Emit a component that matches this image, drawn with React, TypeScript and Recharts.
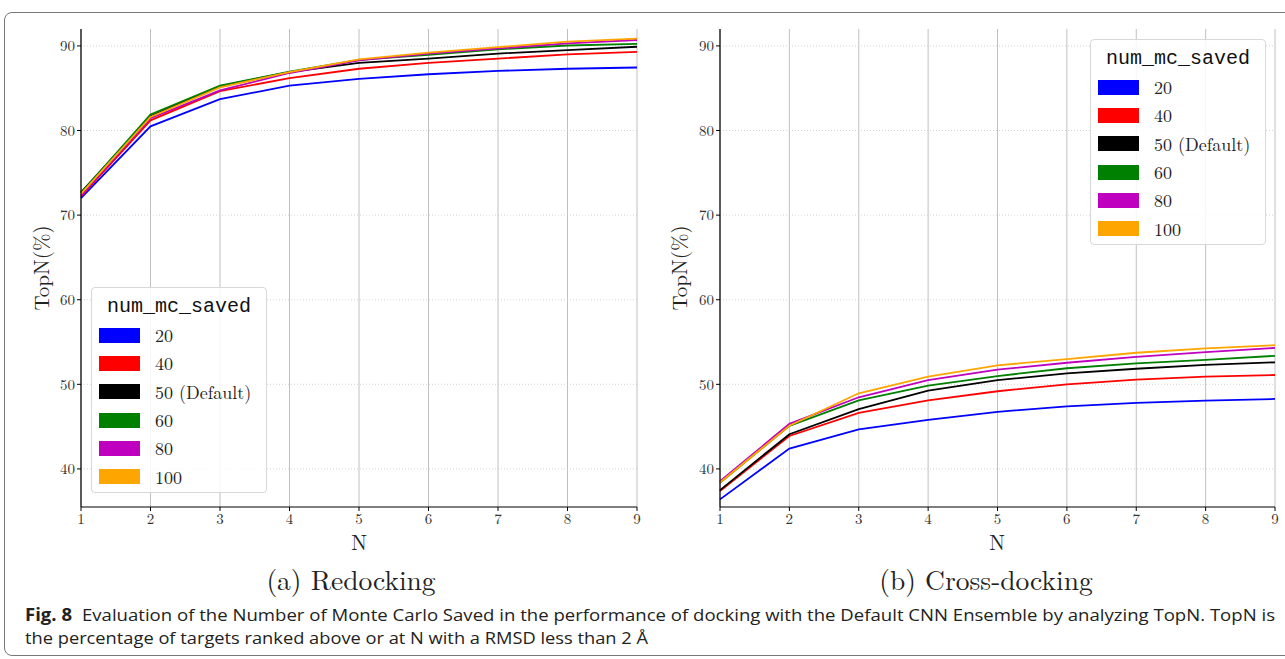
import React from 'react';
import { LineChart, Line, XAxis, YAxis, CartesianGrid } from 'recharts';

const nValues = [1, 2, 3, 4, 5, 6, 7, 8, 9];
const yTicks = [40, 50, 60, 70, 80, 90];
const seriesNames = ['20', '40', '50 (Default)', '60', '80', '100'];
const seriesKeys = ['s20', 's40', 's50', 's60', 's80', 's100'];
const seriesColors = ['#0000ff', '#ff0000', '#000000', '#008000', '#bf00bf', '#ffa500'];

// Redocking
const redock20 = [72.0, 80.5, 83.7, 85.3, 86.1, 86.65, 87.05, 87.3, 87.45];
const redock40 = [72.2, 81.2, 84.65, 86.2, 87.3, 88.0, 88.5, 89.0, 89.3];
const redock50 = [72.7, 81.7, 85.25, 86.9, 88.0, 88.5, 89.1, 89.5, 89.9];
const redock60 = [72.6, 81.9, 85.3, 86.95, 88.35, 88.95, 89.6, 90.05, 90.24];
const redock80 = [72.3, 81.45, 84.75, 86.8, 88.3, 89.1, 89.7, 90.3, 90.7];
const redock100 = [72.5, 81.6, 85.1, 86.9, 88.4, 89.2, 89.85, 90.5, 90.87];

// Cross-docking
const cross20 = [36.4, 42.4, 44.67, 45.8, 46.75, 47.4, 47.8, 48.08, 48.27];
const cross40 = [37.4, 43.9, 46.63, 48.1, 49.18, 50.0, 50.55, 50.9, 51.1];
const cross50 = [37.5, 44.1, 47.06, 49.25, 50.5, 51.3, 51.84, 52.3, 52.6];
const cross60 = [38.35, 45.1, 48.1, 49.84, 50.98, 51.9, 52.47, 52.9, 53.37];
const cross80 = [38.55, 45.33, 48.47, 50.5, 51.73, 52.55, 53.25, 53.8, 54.3];
const cross100 = [38.4, 45.1, 48.94, 50.9, 52.24, 52.98, 53.73, 54.24, 54.63];

const build = (cols: number[][]) =>
  nValues.map((n, i) => {
    const row: any = { n };
    seriesKeys.forEach((k, j) => (row[k] = cols[j][i]));
    return row;
  });

const redockData = build([redock20, redock40, redock50, redock60, redock80, redock100]);
const crossData = build([cross20, cross40, cross50, cross60, cross80, cross100]);

const SERIF = '"Latin Modern Roman", "CMU Serif", "Liberation Serif", "DejaVu Serif", serif';

const LegendBox = ({ left, top }: { left: number; top: number }) => (
  <div
    style={{
      position: 'absolute',
      left,
      top,
      width: 176,
      height: 206,
      boxSizing: 'border-box',
      border: '1px solid #d8d8d8',
      borderRadius: 4,
      background: 'rgba(255,255,255,0.85)',
      padding: '5px 0 0 7px',
      fontFamily: SERIF,
    }}
  >
    <div
      style={{
        fontFamily: '"Liberation Mono", "DejaVu Sans Mono", monospace',
        fontSize: 20,
        textAlign: 'center',
        marginLeft: -7,
        height: 28,
        lineHeight: '28px',
        color: '#111',
      }}
    >
      num_mc_saved
    </div>
    {seriesNames.map((name, i) => (
      <div key={name} style={{ display: 'flex', alignItems: 'center', height: 28.3 }}>
        <div style={{ width: 41, height: 15, background: seriesColors[i] }} />
        <div style={{ marginLeft: 15, fontSize: 18, lineHeight: 1, color: '#222' }}>{name}</div>
      </div>
    ))}
  </div>
);

const Panel = ({
  data,
  left,
  width,
  marginLeft,
  marginRight,
}: {
  data: any[];
  left: number;
  width: number;
  marginLeft: number;
  marginRight: number;
}) => (
  <div style={{ position: 'absolute', left, top: 0 }}>
    <LineChart
      width={width}
      height={560}
      data={data}
      margin={{ top: 29, right: marginRight, left: marginLeft, bottom: 23 }}
    >
      <CartesianGrid horizontal={false} stroke="#b0b0b0" strokeWidth={0.8} verticalValues={nValues} />
      <CartesianGrid vertical={false} stroke="#c8c8c8" strokeDasharray="1 2" strokeWidth={0.8} horizontalValues={yTicks} />
      <XAxis
        dataKey="n"
        type="number"
        domain={[1, 9]}
        ticks={nValues}
        height={30}
        tickSize={4}
        tick={{ fontFamily: SERIF, fontSize: 15, fill: '#333' }}
        axisLine={{ stroke: '#000', strokeWidth: 1.2 }}
        tickLine={{ stroke: '#000' }}
      />
      <XAxis xAxisId="top" orientation="top" dataKey="n" type="number" domain={[1, 9]} tick={false} tickLine={false} height={0} axisLine={{ stroke: '#000', strokeWidth: 1.2 }} />
      <YAxis
        type="number"
        domain={[35.5, 92]}
        ticks={yTicks}
        allowDataOverflow
        width={50}
        tickSize={4}
        tick={{ fontFamily: SERIF, fontSize: 15, fill: '#333' }}
        axisLine={{ stroke: '#000', strokeWidth: 1.2 }}
        tickLine={{ stroke: '#000' }}
      />
      <YAxis yAxisId="right" orientation="right" type="number" domain={[35.5, 92]} tick={false} tickLine={false} width={0} axisLine={{ stroke: '#000', strokeWidth: 1.2 }} />
      {seriesKeys.map((k, i) => (
        <Line
          key={k}
          dataKey={k}
          name={seriesNames[i]}
          stroke={seriesColors[i]}
          strokeWidth={1.8}
          dot={false}
          isAnimationActive={false}
          type="linear"
        />
      ))}
    </LineChart>
  </div>
);

const textStyle: React.CSSProperties = {
  position: 'absolute',
  fontFamily: SERIF,
  color: '#222',
  whiteSpace: 'nowrap',
  lineHeight: 1,
};

export default function App() {
  return (
    <div
      style={{
        position: 'absolute',
        left: 0,
        top: 0,
        width: 1285,
        height: 659,
        overflow: 'hidden',
        background: '#fff',
      }}
    >
      <div
        style={{
          position: 'absolute',
          left: 4,
          top: 12,
          width: 1300,
          height: 644,
          border: '1.5px solid #777',
          borderRadius: 8,
          boxSizing: 'border-box',
        }}
      />
      <Panel data={redockData} left={0} width={650} marginLeft={31} marginRight={13} />
      <Panel data={crossData} left={640} width={645} marginLeft={30} marginRight={10} />
      <LegendBox left={91} top={287} />
      <LegendBox left={1090} top={39} />

      <div style={{ ...textStyle, left: 40, top: 268, fontSize: 21, transform: 'translate(-50%, -50%) rotate(-90deg)' }}>TopN(%)</div>
      <div style={{ ...textStyle, left: 678, top: 268, fontSize: 21, transform: 'translate(-50%, -50%) rotate(-90deg)' }}>TopN(%)</div>
      <div style={{ ...textStyle, left: 359, top: 541, fontSize: 21, transform: 'translate(-50%, -50%)' }}>N</div>
      <div style={{ ...textStyle, left: 997, top: 541, fontSize: 21, transform: 'translate(-50%, -50%)' }}>N</div>
      <div style={{ ...textStyle, left: 351, top: 579, fontSize: 27.5, transform: 'translate(-50%, -50%)' }}>(a) Redocking</div>
      <div style={{ ...textStyle, left: 986, top: 579, fontSize: 27.5, transform: 'translate(-50%, -50%)' }}>(b) Cross-docking</div>

      <svg width={1285} height={659} style={{ position: 'absolute', left: 0, top: 0, pointerEvents: 'none' }}>
        <text x={25} y={621} fontFamily='"Open Sans", "Noto Sans", sans-serif' fontWeight={700} fontSize={17} fill="#222" textLength={47} lengthAdjust="spacingAndGlyphs">
          Fig. 8
        </text>
        <text x={82} y={621} fontFamily='"Open Sans", "Noto Sans", sans-serif' fontSize={17} fill="#222" textLength={1193} lengthAdjust="spacingAndGlyphs">
          Evaluation of the Number of Monte Carlo Saved in the performance of docking with the Default CNN Ensemble by analyzing TopN. TopN is
        </text>
        <text x={25} y={644} fontFamily='"Open Sans", "Noto Sans", sans-serif' fontSize={17} fill="#222" textLength={623} lengthAdjust="spacingAndGlyphs">
          the percentage of targets ranked above or at N with a RMSD less than 2 Å
        </text>
      </svg>
    </div>
  );
}
